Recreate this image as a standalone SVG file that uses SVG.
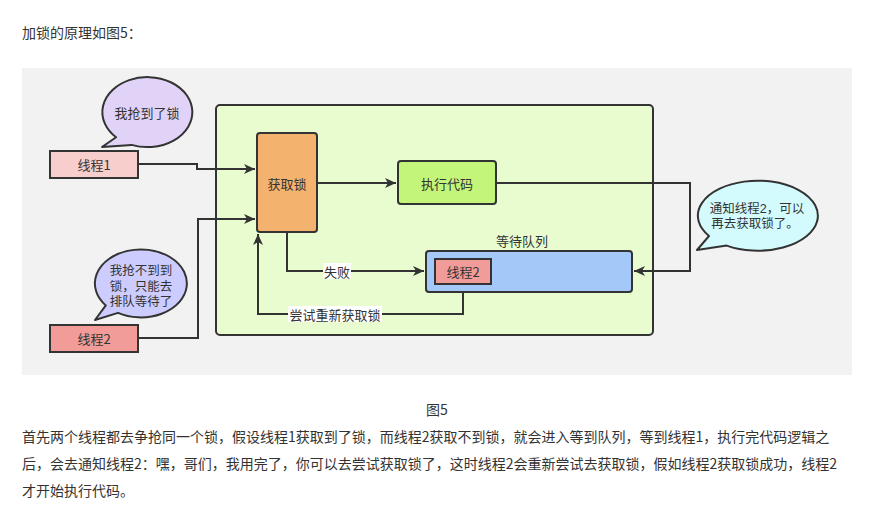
<svg xmlns="http://www.w3.org/2000/svg" width="873" height="507" viewBox="0 0 873 507">
<defs>
<style>
.t{font-family:"Noto Sans CJK SC","Microsoft YaHei",sans-serif;fill:#333;}
.d{font-size:13px;text-anchor:middle;dominant-baseline:central;}
.b{font-family:"Liberation Sans","Noto Sans CJK SC",sans-serif;font-size:12.5px;text-anchor:middle;}
.p{font-size:14px;}
.box{stroke:#333;stroke-width:2;}
.ln{fill:none;stroke:#333;stroke-width:2;}
.lbl{fill:#ffffff;}
</style>
<marker id="ah" markerUnits="userSpaceOnUse" markerWidth="12" markerHeight="10" refX="11" refY="5" orient="auto">
<path d="M0,0 L11,5 L0,10 L3,5 Z" fill="#333"/>
</marker>
</defs>
<rect width="873" height="507" fill="#ffffff"/>
<text class="t p" x="22" y="38">加锁的原理如图5：</text>
<rect x="22" y="68" width="830" height="307" fill="#f2f2f2"/>

<g id="container">
<rect x="216" y="105" width="437" height="230" rx="4" fill="#e8fccf" class="box"/>
</g>

<g id="connectors">
<path class="ln" d="M138,164 H197 V169 H255" marker-end="url(#ah)"/>
<path class="ln" d="M138,338 H198 V219 H255" marker-end="url(#ah)"/>
<path class="ln" d="M317,183 H396" marker-end="url(#ah)"/>
<path class="ln" d="M496,183 H690 V271 H634" marker-end="url(#ah)"/>
<path class="ln" d="M287,232 V271 H424" marker-end="url(#ah)"/>
<path class="ln" d="M463,284 V314 H258 V234" marker-end="url(#ah)"/>
<rect class="lbl" x="323" y="263" width="28" height="16"/>
<text class="t d" x="337" y="271">失败</text>
<rect class="lbl" x="288" y="306" width="94" height="16"/>
<text class="t d" x="335" y="314">尝试重新获取锁</text>
</g>

<g id="thread1">
<rect x="50" y="151" width="88" height="27" fill="#f8cecc" class="box"/>
<text class="t d" x="94" y="164.5">线程1</text>
</g>

<g id="bubble1">
<path d="M131.6,144.9 A45,35 0 1 0 116.1,137.3 L102,147 Z" fill="#e1d3f8" class="box" stroke-linejoin="round"/>
<text class="t d" x="147" y="112">我抢到了锁</text>
</g>

<g id="thread2">
<rect x="50" y="325" width="88" height="27" fill="#f19c99" class="box"/>
<text class="t d" x="94" y="338.5">线程2</text>
</g>

<g id="bubble2">
<path d="M118,312.9 A46,34 0 1 0 105.8,305.4 L95,320 Z" fill="#ccccff" class="box" stroke-linejoin="round"/>
<text class="t b" x="141" y="275">我抢不到到</text>
<text class="t b" x="141" y="290.5">锁，只能去</text>
<text class="t b" x="141" y="306">排队等待了</text>
</g>

<g id="getlock">
<rect x="257" y="133" width="60" height="99" rx="3" fill="#f4b26f" class="box"/>
<text class="t d" x="287" y="183">获取锁</text>
</g>

<g id="exec">
<rect x="398" y="161" width="98" height="43" rx="3" fill="#c3f57a" class="box"/>
<text class="t d" x="447" y="183">执行代码</text>
</g>

<g id="queue">
<text class="t d" x="522" y="240">等待队列</text>
<rect x="426" y="251" width="206" height="41" rx="3" fill="#a4c8f8" class="box"/>
</g>

<g id="queued-thread2">
<rect x="435" y="259" width="56" height="25" fill="#f19c99" class="box"/>
<text class="t d" x="463" y="271.5">线程2</text>
</g>

<g id="bubble3">
<path d="M726.7,245.6 A60,35 0 1 0 709,236 L697,250 Z" fill="#d3fbfd" class="box" stroke-linejoin="round"/>
<text class="t b" x="757" y="212.5">通知线程2，可以</text>
<text class="t b" x="755" y="228">再去获取锁了。</text>
</g>

<text class="t p" x="437" y="415" text-anchor="middle">图5</text>
<text class="t p" x="22" y="442">首先两个线程都去争抢同一个锁，假设线程1获取到了锁，而线程2获取不到锁，就会进入等到队列，等到线程1，执行完代码逻辑之</text>
<text class="t p" x="22" y="469">后，会去通知线程2：嘿，哥们，我用完了，你可以去尝试获取锁了，这时线程2会重新尝试去获取锁，假如线程2获取锁成功，线程2</text>
<text class="t p" x="22" y="496">才开始执行代码。</text>
</svg>
